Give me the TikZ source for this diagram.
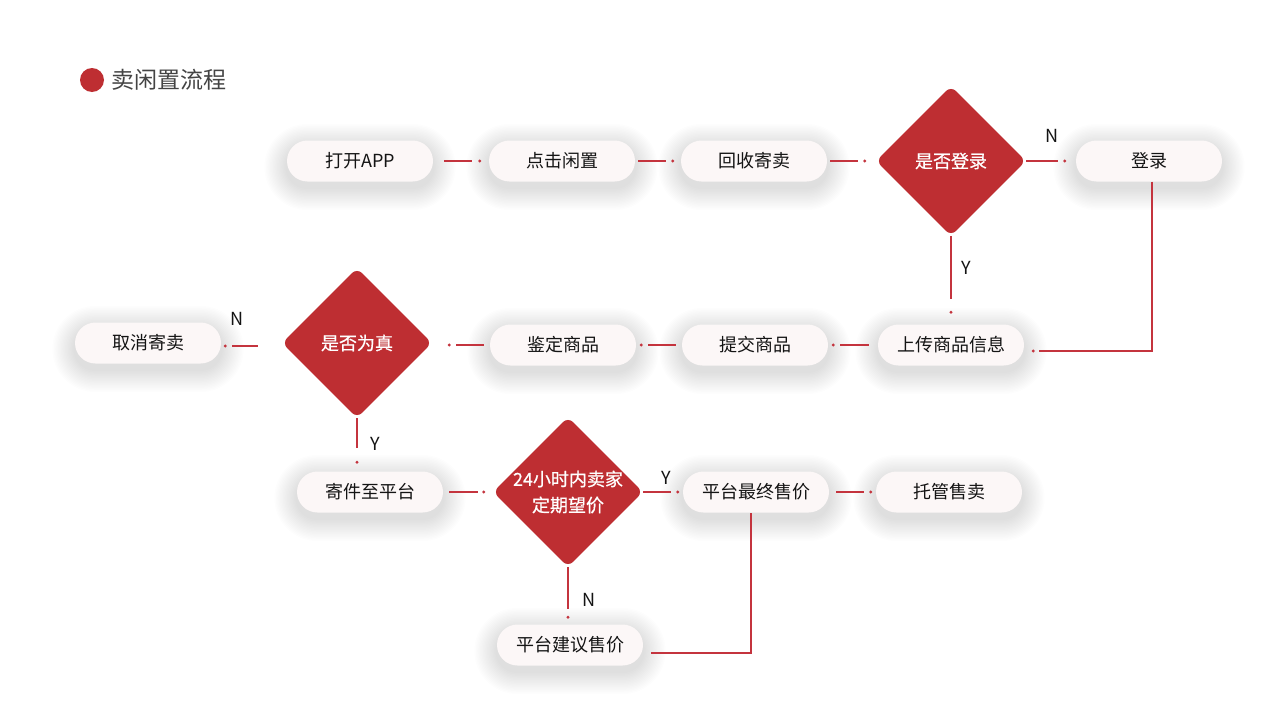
\documentclass[tikz,border=0pt]{standalone}
\usepackage{fontspec}
\setmainfont{Noto Sans CJK SC}
\newfontfamily\dfont[FakeBold=0.6]{Noto Sans CJK SC}
\usetikzlibrary{shapes.geometric,calc,backgrounds}
\definecolor{dred}{RGB}{190,46,50}
\definecolor{lred}{RGB}{196,52,62}
\definecolor{pillc}{RGB}{252,247,247}
\definecolor{txt}{RGB}{20,20,20}
\definecolor{ttl}{RGB}{68,68,68}
\tikzset{
  pillbox/.style={rectangle, rounded corners=20.5pt, minimum width=146pt, minimum height=41pt,
    fill=pillc, text=txt, font=\fontsize{18}{22}\selectfont, inner sep=0pt},
  dia/.style={diamond, fill=dred, minimum width=150pt, minimum height=150pt, inner sep=0pt, rounded corners=7pt},
  dtext/.style={text=white, font=\dfont\fontsize{18}{26}\selectfont, align=center, inner sep=0pt},
  conn/.style={draw=lred, line width=1.3pt},
  dotc/.style={fill=lred},
  lbl/.style={text=txt, font=\fontsize{18}{22}\selectfont, inner sep=0pt},
}
\newcommand\mypillshadow[1]{%
  \foreach \k [evaluate=\k as \r using 20.5+\k*1.4, evaluate=\k as \d using \k*1.4] in {1,...,16}{%
    \fill[black,opacity=0.0075,rounded corners=\r pt]
      ($(#1.south west)+(-\d,\d+6)$) rectangle ($(#1.north east)+(\d,-\d+6)$);}}
\begin{document}
\begin{tikzpicture}[x=1pt,y=-1pt]
\useasboundingbox (0,0) rectangle (1280,720);
% title
\fill[dred] (92,80) circle (12);
\node[anchor=west, text=ttl, font=\fontsize{23}{26}\selectfont, inner sep=0pt] (title) at (111,80) {卖闲置流程};
% row 1
\node[pillbox] (a1) at (360,161) {打开APP};
\node[pillbox] (a2) at (562,161) {点击闲置};
\node[pillbox] (a3) at (754,161) {回收寄卖};
\node[dia, label={[dtext]center:是否登录}] (d1) at (951,161) {};
\node[pillbox] (a4) at (1149,161) {登录};
% row 2
\node[pillbox] (b5) at (951,345) {上传商品信息};
\node[pillbox] (b4) at (755,345) {提交商品};
\node[pillbox] (b3) at (563,345) {鉴定商品};
\node[dia, label={[dtext]center:是否为真}] (d2) at (357,343) {};
\node[pillbox] (b1) at (148,343) {取消寄卖};
% row 3
\node[pillbox] (c1) at (370,492) {寄件至平台};
\node[dia, label={[dtext]center:24小时内卖家\\定期望价}] (d3) at (568,492) {};
\node[pillbox] (c3) at (756,492) {平台最终售价};
\node[pillbox] (c4) at (949,492) {托管售卖};
\node[pillbox] (c5) at (570,645) {平台建议售价};
% background and shadows
\begin{scope}[on background layer]
\fill[white] (0,0) rectangle (1280,720);
\foreach \n in {a1,a2,a3,a4,b1,b3,b4,b5,c1,c3,c4,c5}{\mypillshadow{\n}}
\end{scope}
% connectors row 1
\draw[conn] ([xshift=11]a1.east) -- ([xshift=-17]a2.west);
\fill[dotc] ([xshift=-9]a2.west) circle (1.6);
\draw[conn] ([xshift=3]a2.east) -- ([xshift=-15]a3.west);
\fill[dotc] ([xshift=-8]a3.west) circle (1.6);
\draw[conn] ([xshift=3]a3.east) -- ([xshift=-18]d1.west);
\fill[dotc] ([xshift=-11]d1.west) circle (1.6);
\draw[conn] (d1.east) -- ([xshift=-18]a4.west);
\fill[dotc] ([xshift=-11]a4.west) circle (1.6);
\node[lbl] (n1) at (1052,136) {N};
% 登录 -> 上传商品信息
\draw[conn] ([xshift=3]a4.south) |- ($(b5.east)+(15,6)$);
\fill[dotc] ($(b5.east)+(9,6)$) circle (1.6);
% 是否登录 -> 上传商品信息
\draw[conn] (d1.south) -- ($(b5.north)+(0,-25)$);
\fill[dotc] ($(b5.north)+(0,-12)$) circle (1.6);
\node[lbl] (y1) at (966,268) {Y};
% row 2
\draw[conn] ($(b5.west)+(-9,0)$) -- ($(b4.east)+(12,0)$);
\fill[dotc] ($(b4.east)+(5,0)$) circle (1.6);
\draw[conn] ($(b4.west)+(-6,0)$) -- ($(b3.east)+(12,0)$);
\fill[dotc] ($(b3.east)+(5,0)$) circle (1.6);
\draw[conn] ($(b3.west)+(-6,0)$) -- ($(b3.west -| d2.east)+(24,0)$);
\fill[dotc] ($(b3.west -| d2.east)+(17,0)$) circle (1.6);
\draw[conn] ($(d2.west)+(-24,3)$) -- ($(b1.east)+(11,3)$);
\fill[dotc] ($(b1.east)+(4,3)$) circle (1.6);
\node[lbl] (n2) at (237,319) {N};
% 是否为真 -> 寄件至平台
\draw[conn] (d2.south) -- ($(d2.south |- c1.north)+(0,-23)$);
\fill[dotc] ($(d2.south |- c1.north)+(0,-9)$) circle (1.6);
\node[lbl] (y2) at (375,444) {Y};
% row 3
\draw[conn] ($(c1.east)+(6,0)$) -- ($(d3.west)+(-15,0)$);
\fill[dotc] ($(d3.west)+(-9,0)$) circle (1.6);
\draw[conn] (d3.east) -- ($(c3.west)+(-12,0)$);
\fill[dotc] ($(c3.west)+(-5,0)$) circle (1.6);
\node[lbl] (y3) at (666,478) {Y};
\draw[conn] ($(c3.east)+(7,0)$) -- ($(c4.west)+(-12,0)$);
\fill[dotc] ($(c4.west)+(-5,0)$) circle (1.6);
\draw[conn] (d3.south) -- ($(d3.south |- c5.north)+(0,-15)$);
\fill[dotc] ($(d3.south |- c5.north)+(0,-7)$) circle (1.6);
\node[lbl] (n3) at (589,600) {N};
\draw[conn] ($(c5.east)+(8,8)$) -| ($(c3.south)+(-5,0)$);
\end{tikzpicture}
\end{document}
